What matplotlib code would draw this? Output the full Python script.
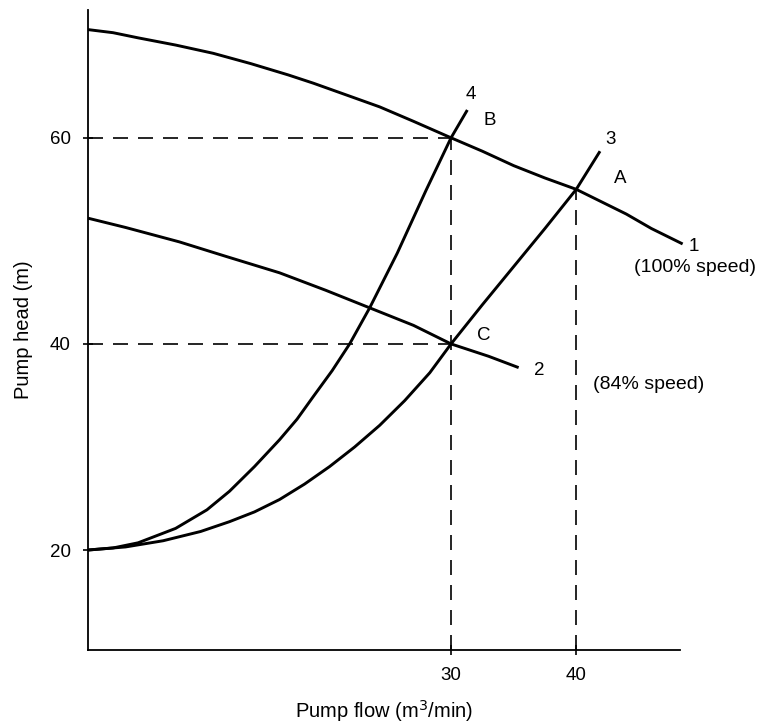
import numpy as np
import matplotlib.pyplot as plt

plt.rcParams['font.family'] = ['Liberation Sans', 'DejaVu Sans']

# curve 1: pump at 100% speed
q1 = [1.0, 3.0, 5.0, 8.0, 11.0, 14.0, 17.0, 19.0, 22.0, 24.3, 27.0, 30.0,
      32.5, 35.0, 37.5, 40.0, 42.0, 44.0, 46.0, 48.5]
h1 = [70.5, 70.2, 69.7, 69.0, 68.2, 67.2, 66.1, 65.3, 64.0, 63.0, 61.6, 60.0,
      58.7, 57.3, 56.1, 55.0, 53.8, 52.6, 51.2, 49.7]
# curve 2: pump at 84% speed
q2 = [1.0, 4.0, 8.3, 12.0, 16.3, 20.0, 23.5, 27.0, 30.0, 33.0, 35.4]
h2 = [52.2, 51.3, 49.9, 48.5, 46.9, 45.2, 43.5, 41.8, 40.0, 38.8, 37.7]
# curve 3: system curve (open valve)
q3 = [1.0, 4.0, 7.0, 10.0, 12.3, 14.3, 16.3, 18.3, 20.3, 22.3, 24.3, 26.3,
      28.3, 30.0, 32.5, 35.0, 37.5, 40.0, 41.9]
h3 = [20.0, 20.3, 20.9, 21.8, 22.75, 23.7, 24.9, 26.4, 28.1, 30.0, 32.1, 34.5,
      37.2, 40.0, 43.8, 47.5, 51.2, 55.0, 58.7]
# curve 4: system curve (throttled)
q4 = [1.0, 3.0, 5.0, 8.0, 10.5, 12.3, 14.3, 16.3, 17.7, 19.0, 20.5, 21.9,
      23.5, 25.7, 28.0, 30.0, 31.3]
h4 = [20.0, 20.2, 20.7, 22.1, 23.9, 25.7, 28.1, 30.7, 32.7, 34.9, 37.4, 40.0,
      43.5, 48.8, 54.9, 60.0, 62.7]

# operating points
pts = {'A': (40, 55), 'B': (30, 60), 'C': (30, 40)}

fig = plt.figure(figsize=(7.7, 7.26), dpi=100)
ax = fig.add_axes([0.1143, 0.1047, 0.769, 0.8815])

for q, h in [(q1, h1), (q2, h2), (q3, h3), (q4, h4)]:
    ax.plot(q, h, color='black', lw=2.1, clip_on=False,
            solid_capstyle='butt', solid_joinstyle='round')

dash = dict(color='black', lw=1.2, dashes=(9, 6))
xmin, ymin = 1.0, 10.3
ax.plot([xmin, pts['B'][0]], [pts['B'][1]] * 2, **dash)
ax.plot([xmin, pts['C'][0]], [pts['C'][1]] * 2, **dash)
ax.plot([pts['B'][0]] * 2, [ymin, pts['B'][1]], **dash)
ax.plot([pts['A'][0]] * 2, [ymin, pts['A'][1]], **dash)

fs = 13.5
ax.text(32.6, 61.2, 'B', fontsize=fs)
ax.text(43.0, 55.6, 'A', fontsize=fs)
ax.text(32.1, 40.4, 'C', fontsize=fs)
ax.text(31.2, 63.8, '4', fontsize=fs)
ax.text(42.3, 59.4, '3', fontsize=fs)
ax.text(49.0, 49.0, '1', fontsize=fs, clip_on=False)
ax.text(36.6, 37.0, '2', fontsize=fs)
ax.text(44.6, 47.0, '(100% speed)', fontsize=14, clip_on=False)
ax.text(41.3, 35.6, '(84% speed)', fontsize=14)

ax.set_xlim(xmin, 48.3)
ax.set_ylim(ymin, 72.4)
ax.set_xticks([30, 40])
ax.set_yticks([20, 40, 60])
ax.tick_params(direction='inout', length=7, width=1.2, labelsize=fs, pad=9)
ax.spines['top'].set_visible(False)
ax.spines['right'].set_visible(False)
for s in ['left', 'bottom']:
    ax.spines[s].set_linewidth(1.3)

ax.set_xlabel('Pump flow (m$^3$/min)', fontsize=14.5, labelpad=10)
ax.set_ylabel('Pump head (m)', fontsize=14.5, labelpad=12)

fig.savefig('out.png', dpi=100)
